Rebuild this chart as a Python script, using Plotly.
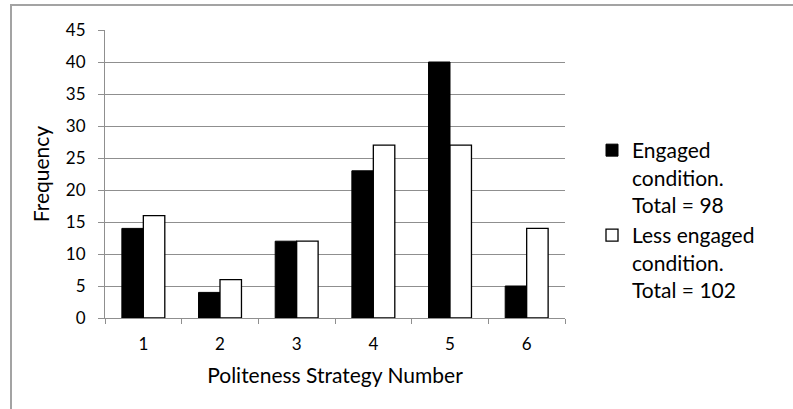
import plotly.graph_objects as go

categories = ["1", "2", "3", "4", "5", "6"]
engaged = [14, 4, 12, 23, 40, 5]
less_engaged = [16, 6, 12, 27, 27, 14]
engaged_name = "Engaged<br>condition.<br>Total = 98"
less_name = "Less engaged<br>condition.<br>Total = 102"
y_ticks = [0, 5, 10, 15, 20, 25, 30, 35, 40, 45]

W, H = 793, 409
L, R, T, B = 105, 793 - 565, 30, 409 - 318
pw, ph = W - L - R, H - T - B

def px_x(x):
    return (x - L) / pw

def px_y(y):
    return 1 - (y - T) / ph

FONT = "Lato"
GRID = "#8f8f8f"

fig = go.Figure()
fig.add_trace(go.Bar(x=categories, y=engaged, name=engaged_name, legendgroup="g0",
                     marker=dict(color="black", line=dict(color="black", width=1))))
fig.add_trace(go.Bar(x=categories, y=less_engaged, name=less_name, legendgroup="g1",
                     marker=dict(color="white", line=dict(color="black", width=1.3))))

fig.update_layout(
    width=W, height=H,
    margin=dict(l=L, r=R, t=T, b=B, autoexpand=False),
    paper_bgcolor="white", plot_bgcolor="white",
    barmode="group", bargap=0.44, bargroupgap=0,
    font=dict(family=FONT, color="black"),
    showlegend=True,
    legend=dict(x=px_x(592), y=px_y(130), xanchor="left", yanchor="top",
                valign="top", font=dict(size=21, family=FONT),
                bgcolor="rgba(0,0,0,0)", tracegroupgap=0, traceorder="normal"),
    xaxis=dict(type="category", showline=True, linecolor=GRID, linewidth=1,
               ticks="outside", tickson="boundaries", ticklen=5, tickcolor=GRID,
               showgrid=False, tickfont=dict(size=17), ticklabelstandoff=11,
               title=dict(text="Politeness Strategy Number", font=dict(size=21), standoff=14)),
    yaxis=dict(range=[0, 45], tickvals=y_ticks, showline=True, linecolor=GRID, linewidth=1,
               ticks="outside", ticklen=6, tickcolor=GRID, showgrid=True,
               gridcolor=GRID, gridwidth=1, zeroline=False, tickfont=dict(size=17),
               ticklabelstandoff=9,
               title=dict(text="Frequency", font=dict(size=21), standoff=10)),
    shapes=[
        dict(type="rect", xref="paper", yref="paper", x0=px_x(11), x1=px_x(820),
             y0=px_y(430), y1=px_y(5), fillcolor="rgba(0,0,0,0)",
             line=dict(color="#a3a3a3", width=2)),
    ],
)

fig.write_html("out.html", config={"displayModeBar": False},
               post_script="document.body.style.margin='0';document.body.style.overflow='hidden';")
